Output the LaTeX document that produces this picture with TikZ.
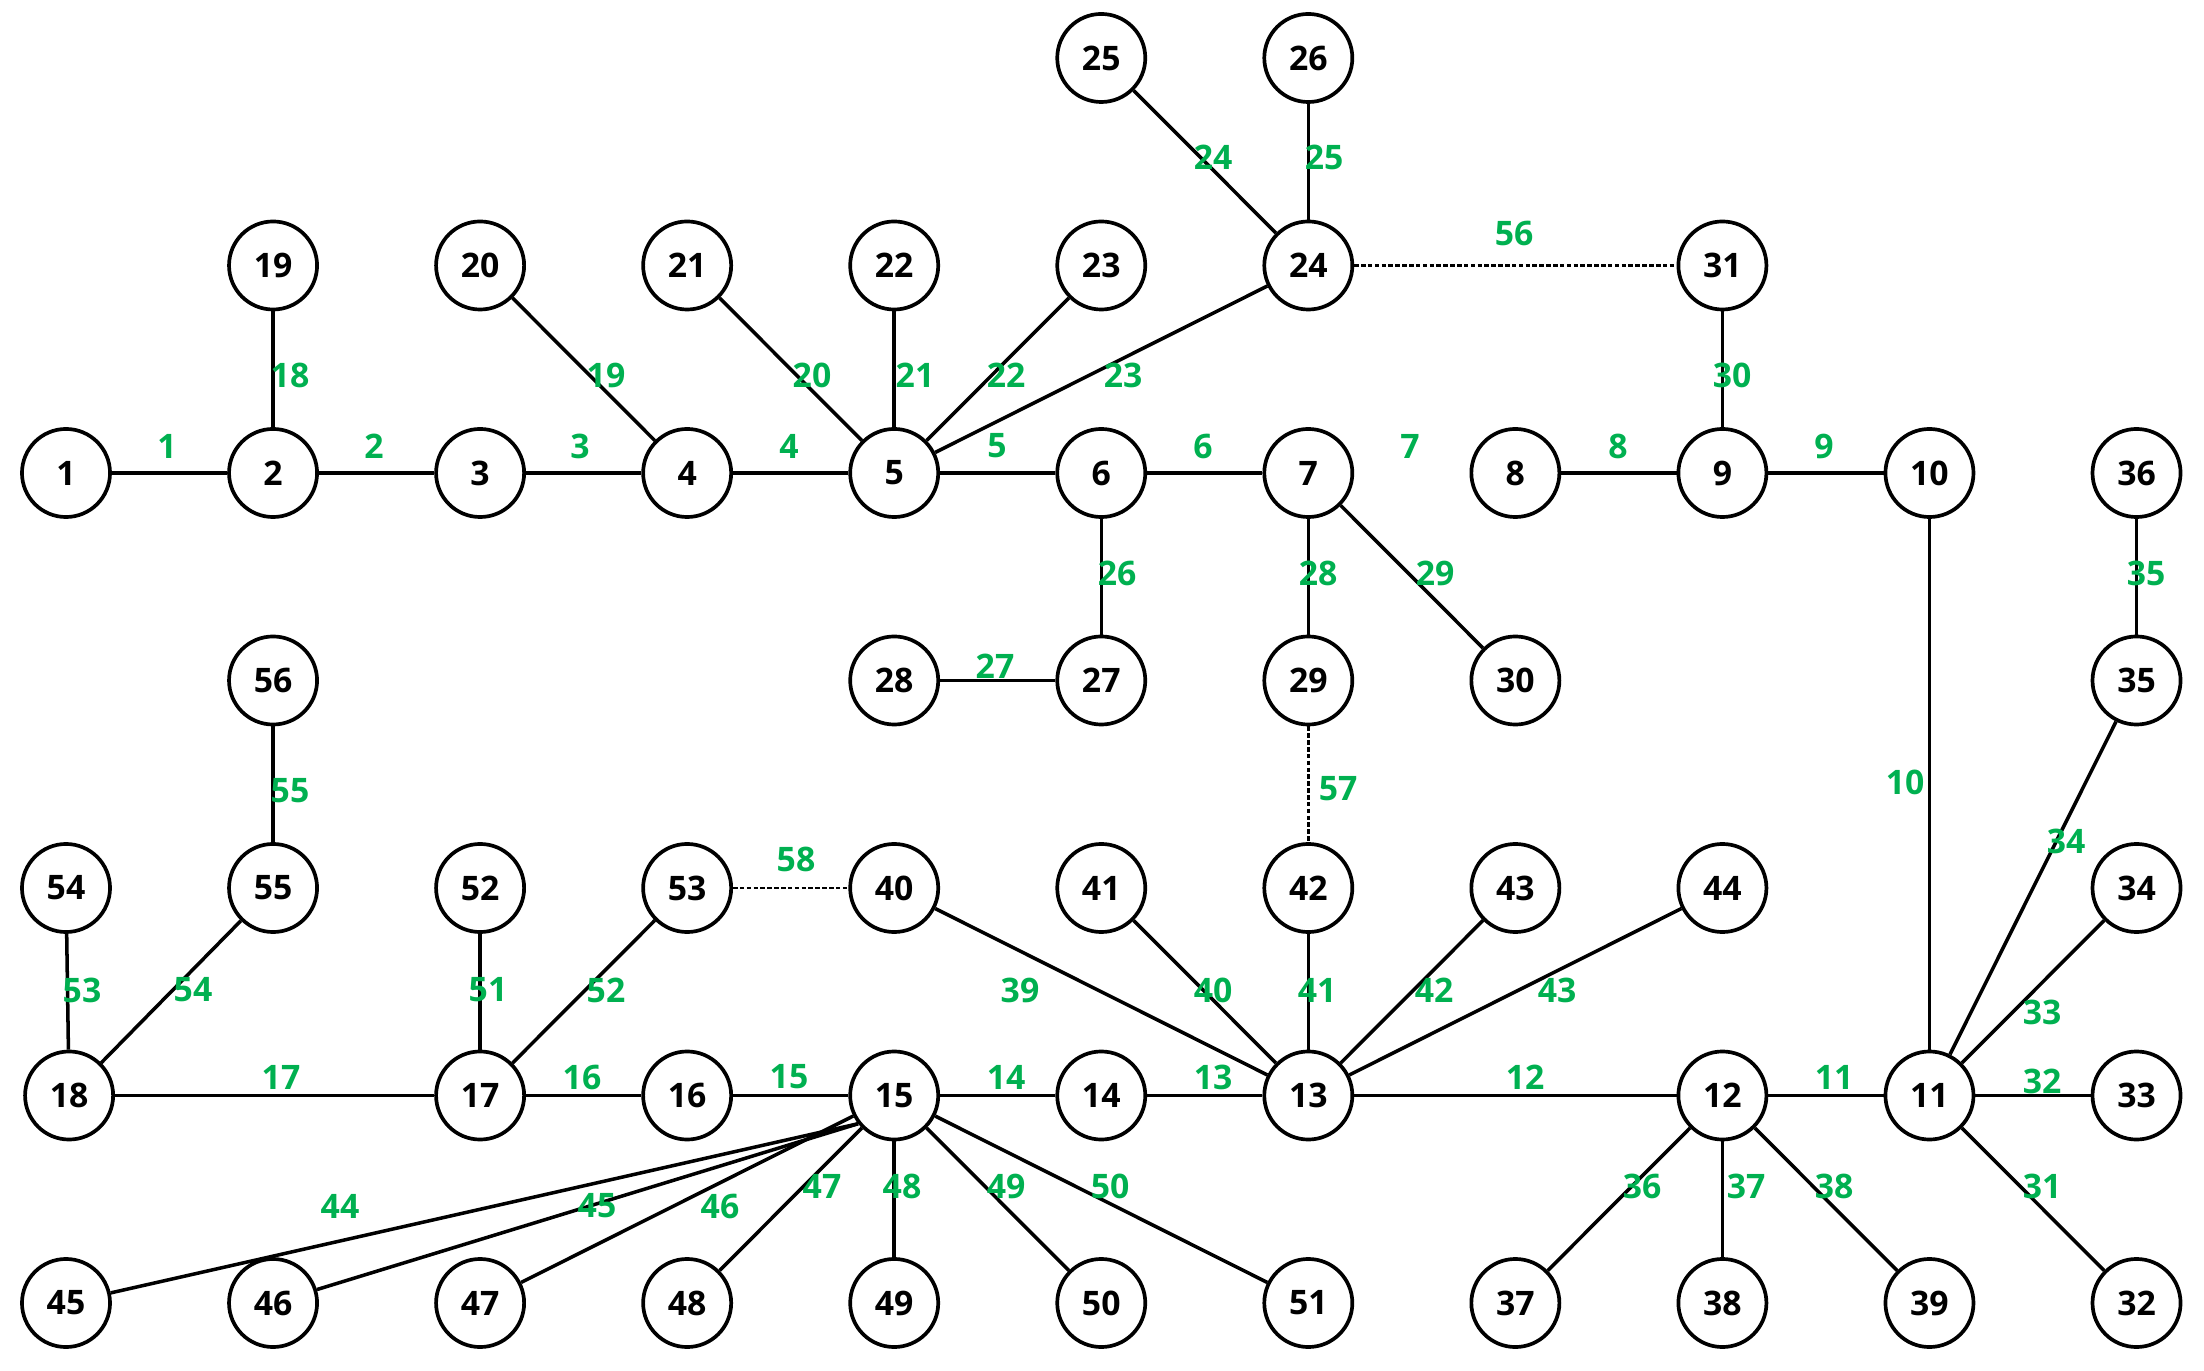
\documentclass[tikz,border=0pt]{standalone}
\usepackage{fontspec}
\setmainfont{Open Sans}
\definecolor{lblgreen}{HTML}{00B050}
\begin{document}
\begin{tikzpicture}[x=0.01cm,y=-0.01cm,
  vtx/.style={circle,draw=black,line width=1.05pt,minimum size=0.88cm,inner sep=0pt,font=\fontsize{9.6}{11}\selectfont\bfseries},
  lbl/.style={text=lblgreen,inner sep=0pt,font=\fontsize{9.6}{11}\selectfont\bfseries},
  edge/.style={line width=1.0pt},
  tie/.style={line width=0.8pt,dash pattern=on 1.3pt off 0.65pt}]
\useasboundingbox (0,0) rectangle (2204,1371);
\newcommand{\nd}[3]{\node[vtx] (n#1) at ({66+207.05*#2},{58+207.5*#3}) {#1};}
% row 0
\nd{25}{5}{0}\nd{26}{6}{0}
% row 1
\nd{19}{1}{1}\nd{20}{2}{1}\nd{21}{3}{1}\nd{22}{4}{1}\nd{23}{5}{1}\nd{24}{6}{1}\nd{31}{8}{1}
% row 2
\nd{1}{0}{2}\nd{2}{1}{2}\nd{3}{2}{2}\nd{4}{3}{2}\nd{5}{4}{2}\nd{6}{5}{2}\nd{7}{6}{2}\nd{8}{7}{2}\nd{9}{8}{2}\nd{10}{9}{2}\nd{36}{10}{2}
% row 3
\nd{56}{1}{3}\nd{28}{4}{3}\nd{27}{5}{3}\nd{29}{6}{3}\nd{30}{7}{3}\nd{35}{10}{3}
% row 4
\nd{54}{0}{4}\nd{55}{1}{4}\nd{52}{2}{4}\nd{53}{3}{4}\nd{40}{4}{4}\nd{41}{5}{4}\nd{42}{6}{4}\nd{43}{7}{4}\nd{44}{8}{4}\nd{34}{10}{4}
% row 5
\nd{18}{0.015}{5}\nd{17}{2}{5}\nd{16}{3}{5}\nd{15}{4}{5}\nd{14}{5}{5}\nd{13}{6}{5}\nd{12}{8}{5}\nd{11}{9}{5}\nd{33}{10}{5}
% row 6
\nd{45}{0}{6}\nd{46}{1}{6}\nd{47}{2}{6}\nd{48}{3}{6}\nd{49}{4}{6}\nd{50}{5}{6}\nd{51}{6}{6}\nd{37}{7}{6}\nd{38}{8}{6}\nd{39}{9}{6}\nd{32}{10}{6}
% solid edges
\foreach \a/\b in {1/2,2/3,3/4,4/5,5/6,6/7,8/9,9/10,10/11,11/12,12/13,13/14,14/15,15/16,16/17,17/18,
  2/19,4/20,5/21,5/22,5/23,5/24,24/25,24/26,6/27,27/28,7/29,7/30,9/31,
  11/32,11/33,11/34,11/35,35/36,12/37,12/38,12/39,
  13/40,13/41,13/42,13/43,13/44,
  15/47,15/48,15/49,15/50,15/51,
  17/52,17/53,18/54,18/55,55/56}
  \draw[edge] (n\a) -- (n\b);
% edges 44-46 meet at one point on the rim of node 15
\foreach \b in {45,46}
  \draw[edge] (n15.-142) -- (n\b);
% tie lines
\draw[tie] (n24) -- (n31);
\draw[tie] (n29) -- (n42);
\draw[tie] (n53) -- (n40);
% edge labels
\foreach \t/\x/\y in {1/167/446,2/374/446,3/580/446,4/789/446,5/997/446,6/1203/446,7/1410/446,8/1618/446,9/1824/446,
  10/1905/782,11/1834/1077,12/1525/1077,13/1213/1077,14/1006/1077,15/789/1077,16/582/1077,17/281/1077,
  18/290/375,19/606/375,20/812/375,21/915/375,22/1006/375,23/1123/375,24/1213/157,25/1324/157,
  26/1117/573,27/995/666,28/1318/573,29/1435/573,30/1732/375,
  31/2042/1186,32/2042/1081,33/2042/1012,34/2066/841,35/2146/573,
  36/1642/1186,37/1746/1186,38/1834/1186,
  39/1020/990,40/1213/990,41/1317/990,42/1434/990,43/1557/990,
  44/340/1206,45/597/1206,46/720/1206,47/822/1186,48/902/1186,49/1006/1186,50/1110/1186,
  51/488/990,52/606/990,53/82/990,54/193/990,55/290/791,56/1514/233,57/1338/789,58/796/859}
  \node[lbl] (l\t) at (\x,\y) {\t};
\end{tikzpicture}
\end{document}
